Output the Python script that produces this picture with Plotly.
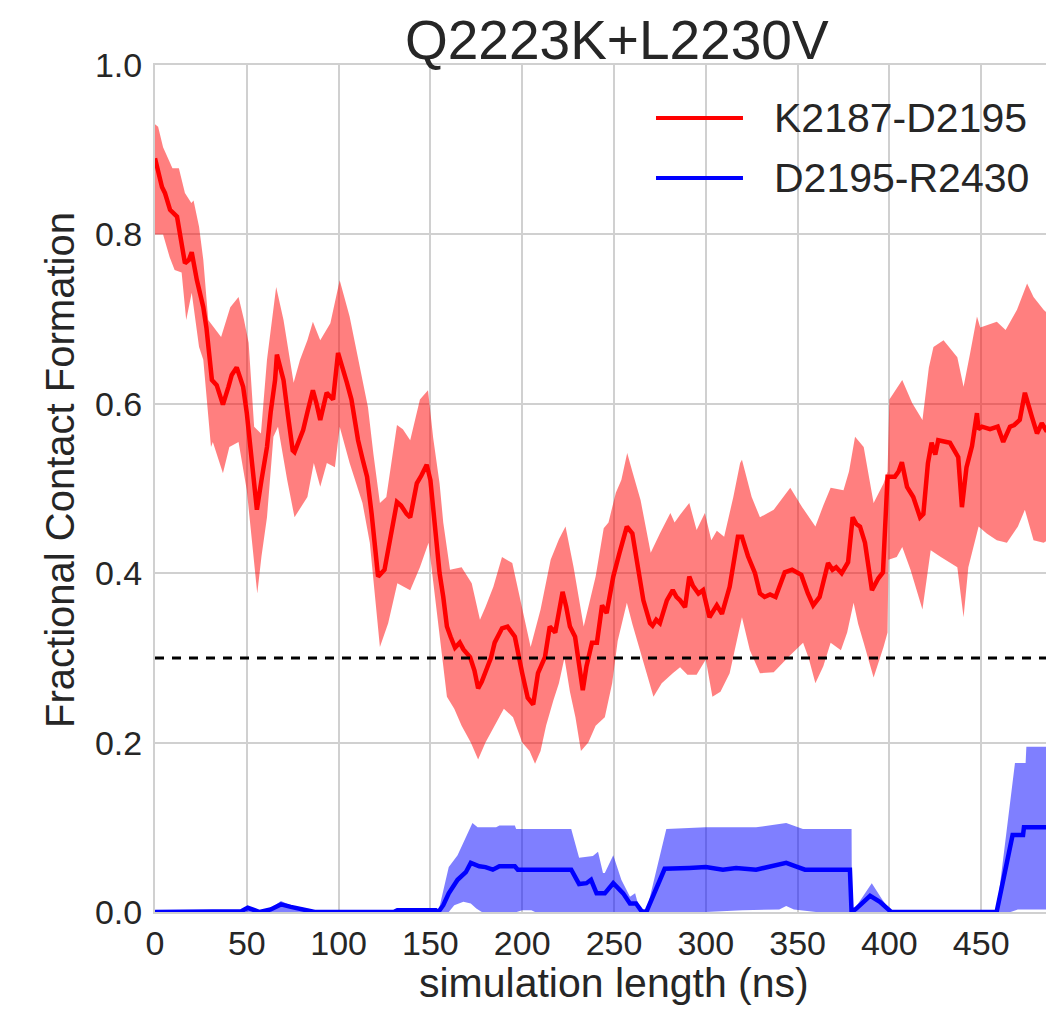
import plotly.graph_objects as go

# ---------------- data ----------------
red_x = [0, 2, 3.8, 5.4, 8.2, 12, 13.6, 16.3, 18.5, 20, 22.8, 26.3, 28, 31, 33.6, 37, 40, 41.8,
         44.5, 48, 50, 53, 55.5, 58, 61, 63, 65.4, 66.4, 68, 70, 72.5, 75, 76, 78, 80.7, 83, 86,
         88, 90, 93.5, 95, 97, 99.7, 102, 104.5, 107, 110.6, 113, 115.5, 118, 121.5, 125, 128,
         131.8, 134, 137, 139, 142.6, 145, 148, 150, 152.5, 155, 157, 159, 161, 163.4, 166, 168,
         171.6, 174, 176, 178, 181, 183, 185, 189, 192, 196, 200, 203, 206, 208.6, 212.4, 215,
         218, 222, 224, 226, 228.8, 231, 233, 235, 238, 240.7, 243.5, 246, 249.6, 253, 255, 257,
         260, 263, 266, 269.6, 271, 273, 275, 278.8, 282, 284, 286, 288.7, 291, 293, 296, 298.5,
         302, 306, 308.8, 313, 317.5, 319.7, 323, 326.8, 329.5, 332, 335, 338, 343, 347, 349.6,
         352, 355.6, 358.5, 362, 366.6, 369, 371, 374, 377.5, 380, 382, 384, 386.7, 390.5, 394,
         396.5, 399, 403, 405, 406.8, 409.6, 413, 416.7, 418.5, 421, 423, 425, 426.6, 430, 433,
         437.5, 439.5, 442, 445, 447.7, 448.5, 450.4, 454.8, 459, 462, 465.7, 468, 471, 473.8,
         477.7, 480.4, 483, 485, 487]
red_mean = [0.89, 0.87, 0.856, 0.849, 0.829, 0.821, 0.80, 0.766, 0.77, 0.779, 0.746, 0.714, 0.69,
            0.628, 0.622, 0.599, 0.62, 0.634, 0.643, 0.62, 0.589, 0.52, 0.475, 0.51, 0.549, 0.59,
            0.628, 0.658, 0.645, 0.628, 0.585, 0.545, 0.543, 0.555, 0.569, 0.59, 0.616, 0.60,
            0.581, 0.613, 0.61, 0.605, 0.66, 0.645, 0.625, 0.605, 0.557, 0.535, 0.514, 0.47,
            0.396, 0.404, 0.44, 0.484, 0.48, 0.47, 0.466, 0.506, 0.515, 0.528, 0.51, 0.451, 0.40,
            0.372, 0.337, 0.325, 0.312, 0.318, 0.31, 0.301, 0.285, 0.264, 0.272, 0.289, 0.30,
            0.318, 0.335, 0.337, 0.325, 0.282, 0.253, 0.245, 0.282, 0.301, 0.337, 0.33, 0.378,
            0.36, 0.337, 0.325, 0.29, 0.262, 0.29, 0.318, 0.318, 0.362, 0.353, 0.396, 0.424, 0.44,
            0.455, 0.447, 0.404, 0.368, 0.341, 0.338, 0.345, 0.341, 0.368, 0.38, 0.372, 0.368,
            0.36, 0.396, 0.385, 0.376, 0.38, 0.348, 0.362, 0.352, 0.384, 0.443, 0.443, 0.42, 0.40,
            0.376, 0.372, 0.375, 0.372, 0.401, 0.404, 0.401, 0.398, 0.376, 0.362, 0.372, 0.412,
            0.404, 0.407, 0.40, 0.413, 0.466, 0.458, 0.455, 0.436, 0.38, 0.394, 0.401, 0.514,
            0.514, 0.52, 0.531, 0.502, 0.49, 0.466, 0.47, 0.53, 0.554, 0.54, 0.557, 0.556, 0.554,
            0.537, 0.478, 0.525, 0.55, 0.589, 0.57, 0.573, 0.57, 0.573, 0.555, 0.573, 0.575,
            0.581, 0.613, 0.584, 0.565, 0.577, 0.57, 0.575]

red_up_x = [0, 1.7, 4.4, 7, 9.5, 13, 16.3, 19.8, 21, 24, 26.3, 29, 32, 36, 41, 45.5, 48.5, 51, 54,
            57.7, 61, 66, 70, 75.5, 79, 83, 86, 90, 95.5, 100.6, 106, 111.7, 116, 119, 122.5, 126,
            131.8, 135, 139, 144.3, 148.7, 151.5, 155, 157, 160.7, 167, 172.5, 177, 180, 184.3,
            189, 194.6, 199, 204.6, 210, 215.5, 220, 223.6, 228, 233.5, 240, 244.4, 247, 251, 254,
            257.2, 260, 264.5, 270, 275, 280.7, 283, 286, 291, 295, 299.5, 303, 306, 310, 315,
            318.7, 319.7, 325, 329.5, 337, 346, 352.5, 359.7, 364, 368, 375, 378, 381.3, 386,
            391.4, 396.8, 399, 400, 407, 412.4, 418, 421.5, 424, 429.5, 437, 440.4, 444, 447.7,
            449.5, 458.5, 463.3, 469.5, 475, 478.5, 484, 487]
red_upper = [0.93, 0.927, 0.903, 0.891, 0.878, 0.878, 0.849, 0.837, 0.84, 0.809, 0.77, 0.699, 0.69,
             0.679, 0.714, 0.726, 0.699, 0.672, 0.573, 0.565, 0.652, 0.738, 0.699, 0.625, 0.652,
             0.675, 0.697, 0.675, 0.695, 0.746, 0.703, 0.64, 0.596, 0.54, 0.483, 0.49, 0.575,
             0.57, 0.557, 0.605, 0.616, 0.56, 0.506, 0.46, 0.404, 0.407, 0.388, 0.345, 0.36, 0.384,
             0.419, 0.412, 0.368, 0.313, 0.357, 0.416, 0.44, 0.455, 0.407, 0.337, 0.396, 0.453,
             0.46, 0.495, 0.51, 0.542, 0.52, 0.486, 0.424, 0.447, 0.471, 0.46, 0.469, 0.483, 0.451,
             0.471, 0.439, 0.45, 0.443, 0.49, 0.53, 0.534, 0.49, 0.466, 0.475, 0.501, 0.478, 0.455,
             0.48, 0.501, 0.498, 0.52, 0.561, 0.549, 0.483, 0.506, 0.52, 0.605, 0.628, 0.601,
             0.581, 0.643, 0.667, 0.675, 0.655, 0.62, 0.66, 0.703, 0.69, 0.697, 0.687, 0.711,
             0.742, 0.726, 0.711, 0.705]

red_lo_x = [0, 1.7, 4.4, 8, 10.7, 14.5, 17, 20, 24, 26.3, 30.5, 31.5, 37, 40.5, 45.5, 50, 53, 55.7,
            58, 61, 64.5, 67, 72, 76, 83, 86.5, 90, 93.6, 98, 100.6, 106, 113, 117, 122.5, 127,
            132, 139, 144.3, 149, 153.6, 159, 163, 167, 172, 176, 180, 185, 190, 195, 200, 204,
            207, 210, 213, 217, 220, 223, 226, 229, 232, 236, 240, 245, 249, 252, 257, 260, 264.5,
            268, 271.5, 276, 282, 286, 290, 295, 300, 303.6, 308, 313, 316, 319.7, 324, 329.5,
            337, 345, 353, 356, 359.7, 364, 368, 373.6, 377, 380.5, 383, 386, 391.4, 396.8, 399,
            399.5, 404, 407, 411.5, 418, 422.5, 428, 437, 440.4, 443, 448.6, 453, 458.5, 464, 470,
            473.8, 478.5, 484, 487]
red_lower = [0.80, 0.80, 0.80, 0.773, 0.758, 0.755, 0.699, 0.731, 0.667, 0.652, 0.549, 0.555,
             0.518, 0.549, 0.555, 0.498, 0.43, 0.376, 0.42, 0.466, 0.561, 0.573, 0.51, 0.466, 0.49,
             0.53, 0.502, 0.53, 0.525, 0.573, 0.53, 0.483, 0.436, 0.313, 0.341, 0.388, 0.38, 0.407,
             0.436, 0.353, 0.254, 0.24, 0.22, 0.20, 0.18, 0.2, 0.22, 0.24, 0.23, 0.2, 0.19, 0.175,
             0.19, 0.22, 0.25, 0.27, 0.30, 0.26, 0.23, 0.19, 0.2, 0.22, 0.23, 0.27, 0.32, 0.365,
             0.34, 0.309, 0.28, 0.254, 0.27, 0.282, 0.289, 0.28, 0.28, 0.298, 0.254, 0.26, 0.282,
             0.31, 0.348, 0.309, 0.282, 0.283, 0.301, 0.318, 0.3, 0.27, 0.29, 0.318, 0.309, 0.33,
             0.365, 0.34, 0.318, 0.277, 0.313, 0.33, 0.416, 0.419, 0.431, 0.404, 0.357, 0.427,
             0.419, 0.407, 0.348, 0.407, 0.455, 0.447, 0.439, 0.436, 0.455, 0.475, 0.439, 0.436,
             0.44]

blue_x = [0, 44, 47, 50.5, 54, 57, 63, 68.6, 74, 80, 84.5, 87, 130, 132, 153, 154.3, 157, 160,
          164.8, 169.3, 172, 176.6, 180, 184, 187.6, 196, 197.6, 226.7, 231, 235, 237.5, 240.5,
          245, 249.6, 255, 258.7, 262, 265, 267.6, 277.6, 291, 300, 309.3, 316.5, 327.4, 336.5,
          343.8, 349, 354, 378.5, 379.4, 382, 389.5, 394.8, 401, 458.4, 467.1, 472.8, 473.3, 487]
blue_mean = [0, 0, 0.001, 0.005, 0.003, 0.0, 0.003, 0.009, 0.006, 0.003, 0.001, 0, 0, 0.002,
             0.002, 0, 0.008, 0.022, 0.038, 0.047, 0.058, 0.054, 0.053, 0.05, 0.054, 0.054, 0.05,
             0.05, 0.033, 0.034, 0.038, 0.022, 0.022, 0.034, 0.022, 0.01, 0.01, 0.001, 0, 0.051,
             0.052, 0.053, 0.05, 0.052, 0.05, 0.055, 0.058, 0.054, 0.05, 0.05, 0.0, 0.004, 0.019,
             0.012, 0, 0, 0.091, 0.091, 0.10, 0.10]

blue_up_x = [0, 44, 50.5, 57, 63, 68.6, 76, 87, 130, 132, 153, 154.3, 157, 160, 164.8, 169.3,
             172.9, 175.7, 185.8, 187.6, 196, 196.7, 226.7, 231, 237, 238.5, 241.3, 244, 245,
             249.6, 254, 258.7, 261.5, 264, 267.6, 278.5, 300, 327.4, 343.8, 352.9, 379.4, 379.6,
             383, 390.4, 396, 401, 458.4, 468.4, 474.2, 474.6, 487]
blue_upper = [0, 0, 0.006, 0.0, 0.004, 0.013, 0.006, 0, 0, 0.003, 0.003, 0, 0.025, 0.053, 0.067,
              0.089, 0.105, 0.10, 0.10, 0.102, 0.102, 0.098, 0.098, 0.064, 0.066, 0.066, 0.071,
              0.046, 0.046, 0.067, 0.038, 0.018, 0.022, 0.002, 0, 0.098, 0.1, 0.1, 0.105, 0.098,
              0.098, 0, 0.01, 0.034, 0.015, 0, 0, 0.176, 0.176, 0.195, 0.195]

blue_lo_x = [0, 160, 163, 168, 172, 175, 178, 197, 200, 205, 207, 300, 320, 340, 343.8, 348, 360,
             466, 470, 487]
blue_lower = [0, 0, 0.008, 0.012, 0.01, 0.004, 0, 0, 0.002, 0.002, 0, 0, 0.002, 0.003, 0.007,
              0.003, 0, 0, 0.003, 0.003]

threshold = 0.3
x_ticks = [0, 50, 100, 150, 200, 250, 300, 350, 400, 450]
y_ticks = [0.0, 0.2, 0.4, 0.6, 0.8, 1.0]
series_names = ["K2187-D2195", "D2195-R2430"]
title_text = "Q2223K+L2230V"
x_label = "simulation length (ns)"
y_label = "Fractional Contact Formation"

# ---------------- figure ----------------
FONT = "Arial, 'Liberation Sans', sans-serif"
TXT = "#262626"
GRID = "#d0d0d0"

fig = go.Figure()

fig.add_trace(go.Scatter(
    x=red_up_x + red_lo_x[::-1], y=red_upper + red_lower[::-1],
    fill="toself", fillcolor="rgba(255,0,0,0.5)", line=dict(width=0),
    mode="lines", hoverinfo="skip", showlegend=False))
fig.add_trace(go.Scatter(
    x=blue_up_x + blue_lo_x[::-1], y=blue_upper + blue_lower[::-1],
    fill="toself", fillcolor="rgba(0,0,255,0.5)", line=dict(width=0),
    mode="lines", hoverinfo="skip", showlegend=False))
fig.add_trace(go.Scatter(x=red_x, y=red_mean, mode="lines", name=series_names[0],
                         line=dict(color="#ff0000", width=4.5), showlegend=False))
fig.add_trace(go.Scatter(x=blue_x, y=blue_mean, mode="lines", name=series_names[1],
                         line=dict(color="#0000ff", width=4.5), showlegend=False))
fig.add_trace(go.Scatter(x=[0, 500], y=[threshold, threshold], mode="lines",
                         line=dict(color="black", width=3, dash="9px,8px"),
                         hoverinfo="skip", showlegend=False))

# custom legend (long line samples like the reference)
leg_colors = ["#ff0000", "#0000ff"]
leg_y = [0.9374, 0.8666]
for name, col, yy in zip(series_names, leg_colors, leg_y):
    fig.add_shape(type="line", xref="paper", yref="paper", x0=0.5623, x1=0.6599, y0=yy, y1=yy,
                  line=dict(color=col, width=4))
    fig.add_annotation(xref="paper", yref="paper", x=0.693, y=yy, text=name, showarrow=False,
                       xanchor="left", yanchor="middle",
                       font=dict(family=FONT, size=41, color=TXT))

# title and axis labels
fig.add_annotation(xref="paper", yref="paper", x=0.5190, y=1.0295, text=title_text,
                   showarrow=False, xanchor="center", yanchor="middle",
                   font=dict(family=FONT, size=55, color=TXT))
fig.add_annotation(xref="paper", yref="paper", x=0.5146, y=-0.084, text=x_label,
                   showarrow=False, xanchor="center", yanchor="middle",
                   font=dict(family=FONT, size=41, color=TXT))
fig.add_annotation(xref="paper", yref="paper", x=-0.1066, y=0.522, text=y_label,
                   showarrow=False, xanchor="center", yanchor="middle", textangle=-90,
                   font=dict(family=FONT, size=40, color=TXT))

fig.update_layout(
    width=1046, height=1011,
    margin=dict(l=155, r=0, t=65, b=99),
    paper_bgcolor="white", plot_bgcolor="white",
    font=dict(family=FONT, color=TXT),
    xaxis=dict(range=[0, 485.3], tickvals=x_ticks, ticks="", showgrid=True, gridcolor=GRID,
               gridwidth=2, zeroline=False, showline=True, linecolor=GRID, linewidth=2,
               mirror=True, tickfont=dict(family=FONT, size=34, color=TXT)),
    yaxis=dict(range=[0, 1.0], tickvals=y_ticks, tickformat=".1f", ticks="", showgrid=True,
               gridcolor=GRID, gridwidth=2, zeroline=False, showline=True, linecolor=GRID,
               linewidth=2, mirror=False, ticklabelstandoff=4,
               tickfont=dict(family=FONT, size=34, color=TXT)),
)

fig.write_html("out.html")
